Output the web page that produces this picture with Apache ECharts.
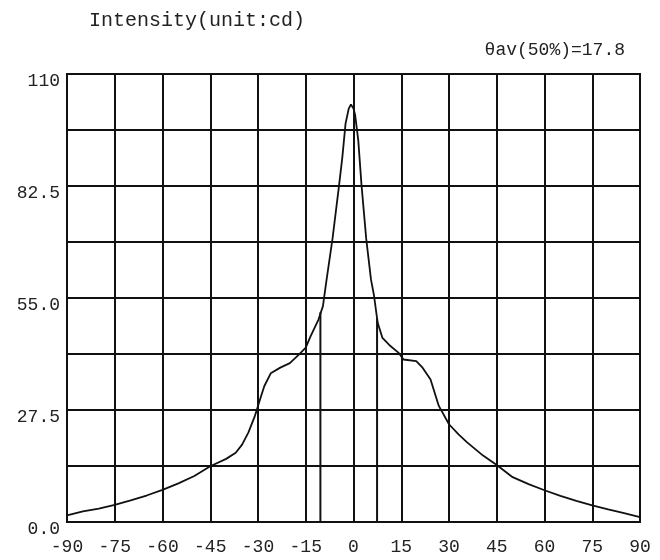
<!DOCTYPE html>
<html>
<head>
<meta charset="utf-8">
<style>
  html, body { margin: 0; padding: 0; background: #fff; }
  #chart { width: 660px; height: 560px; }
</style>
<script src="https://cdn.jsdelivr.net/npm/echarts@6/dist/echarts.min.js"></script>
</head>
<body>
<div id="chart"></div>
<script>
// angles (deg) and intensity (cd)
const angles = [-90, -85, -80, -75, -70, -65, -60, -55, -50, -45, -40, -37, -35, -33, -31, -30, -29, -28, -26, -23, -20, -17, -15, -13.5, -11, -9.6, -8.6, -6.6, -4.5, -3.5, -2.5, -1.5, -0.8, 0, 0.5, 1.5, 2.5, 4, 5.5, 6.4, 7.6, 9.1, 11.6, 14.1, 15.7, 19.7, 21.7, 24.2, 26.8, 30, 33, 35.6, 40.7, 45, 50, 55, 60, 65, 70, 75, 80, 85, 90];
const intensity = [1.6, 2.6, 3.3, 4.2, 5.3, 6.5, 7.9, 9.5, 11.3, 13.7, 15.5, 17, 19, 22, 26, 28.5, 31, 33.4, 36.5, 37.9, 39, 41.2, 42.8, 45.6, 49.7, 53, 58.7, 69.5, 82.9, 89.6, 97.8, 101.5, 102.5, 101.5, 100, 93.7, 82.9, 69.5, 59.5, 55.8, 48.9, 45.2, 43.2, 41.6, 39.9, 39.5, 37.9, 35, 28.5, 24, 21.5, 19.6, 16.3, 14, 11, 9.3, 7.8, 6.4, 5.2, 4.1, 3.1, 2.2, 1.2];

// half-intensity markers
const halfAngles = [-10.4, 7.4];
const halfValues = [51.5, 50];

const yLabels = [0, 27.5, 55, 82.5, 110];

const font = "'Liberation Mono', 'DejaVu Sans Mono', monospace";

const mychart = echarts.init(document.getElementById("chart"));

const series = [
  {
    type: "line",
    data: angles.map((a, i) => [a, intensity[i]]),
    showSymbol: false,
    lineStyle: { color: "#111", width: 1.8 },
    z: 5,
  },
];
halfAngles.forEach((a, i) => {
  series.push({
    type: "line",
    data: [[a, 0], [a, halfValues[i]]],
    showSymbol: false,
    lineStyle: { color: "#111", width: 2 },
  });
});

const options = {
  backgroundColor: "#fff",
  animation: false,
  title: [
    {
      text: "Intensity(unit:cd)",
      left: 84,
      top: 6,
      textStyle: { fontFamily: font, fontSize: 20, fontWeight: "normal", color: "#222" },
    },
    {
      text: "θav(50%)=17.8",
      right: 30,
      top: 36,
      textStyle: { fontFamily: font, fontSize: 18, fontWeight: "normal", color: "#222" },
    },
  ],
  grid: {
    left: 67,
    right: 20,
    top: 74,
    bottom: 38,
    show: true,
    borderColor: "#111",
    borderWidth: 2,
  },
  xAxis: {
    type: "value",
    min: -90,
    max: 90,
    interval: 15,
    axisLine: { show: true, lineStyle: { color: "#111", width: 2 } },
    axisTick: { show: false },
    axisLabel: { fontFamily: font, fontSize: 18, color: "#222", margin: 16 },
    splitLine: { show: true, lineStyle: { color: "#111", width: 2 } },
  },
  yAxis: {
    type: "value",
    min: 0,
    max: 110,
    interval: 13.75,
    axisLine: { show: true, lineStyle: { color: "#111", width: 2 } },
    axisTick: { show: false },
    axisLabel: {
      fontFamily: font,
      fontSize: 18,
      color: "#222",
      margin: 7,
      verticalAlign: "top",
      lineHeight: 14,
      formatter: (v) => {
        if (!yLabels.includes(v)) return "";
        return v === 110 ? "110" : v.toFixed(1);
      },
    },
    splitLine: { show: true, lineStyle: { color: "#111", width: 2 } },
  },
  series: series,
};

mychart.setOption(options);
</script>
</body>
</html>
